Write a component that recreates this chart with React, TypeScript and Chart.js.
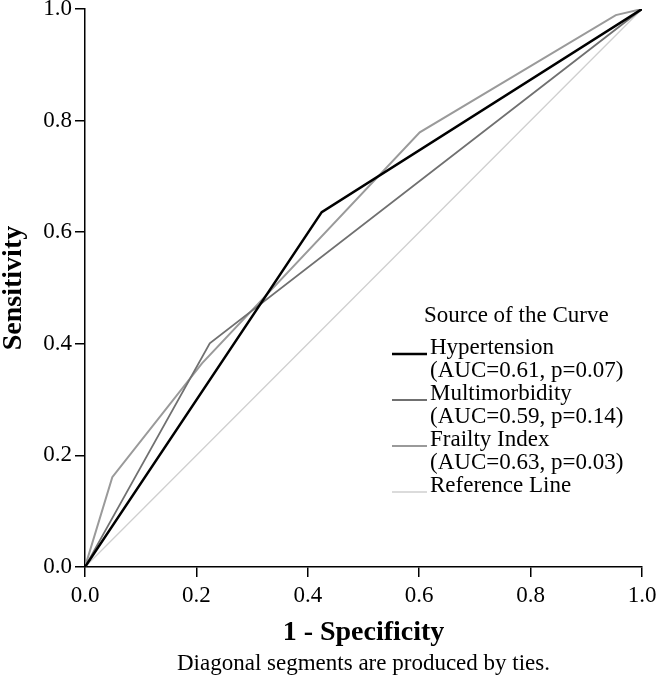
import React, { useEffect, useRef } from "react";
import { Chart, registerables } from "chart.js";

Chart.register(...registerables);

// ---- data ----
const seriesNames = ["Hypertension", "Multimorbidity", "Frailty Index", "Reference Line"];
const seriesStats = ["(AUC=0.61, p=0.07)", "(AUC=0.59, p=0.14)", "(AUC=0.63, p=0.03)", ""];

const hypX = [0, 0.425, 1];
const hypY = [0, 0.636, 1];
const multiX = [0, 0.224, 1];
const multiY = [0, 0.401, 1];
const frailX = [0, 0.049, 0.21, 0.601, 0.953, 1];
const frailY = [0, 0.161, 0.365, 0.779, 0.989, 1];
const refX = [0, 1];
const refY = [0, 1];

const tickValues = [0, 0.2, 0.4, 0.6, 0.8, 1.0];
const xTitle = "1 - Specificity";
const yTitle = "Sensitivity";
const legendTitle = "Source of the Curve";
const caption = "Diagonal segments are produced by ties.";

const FONT = "'Liberation Serif', 'Times New Roman', serif";

const toPoints = (xs: number[], ys: number[]) => xs.map((x, i) => ({ x, y: ys[i] }));

const legendPlugin = {
  id: "customLegend",
  afterDraw(chart: any) {
    const ctx = chart.ctx;
    ctx.save();
    ctx.fillStyle = "#000";
    ctx.font = `23px ${FONT}`;
    ctx.textBaseline = "alphabetic";
    ctx.textAlign = "left";
    ctx.fillText(legendTitle, 424, 322);
    const lineStep = 23;
    let base = 354;
    const dsets = chart.data.datasets;
    for (let i = 0; i < dsets.length; i++) {
      const ds = dsets[i];
      ctx.strokeStyle = ds.borderColor;
      ctx.lineWidth = ds.borderWidth;
      ctx.beginPath();
      ctx.moveTo(392, base);
      ctx.lineTo(427, base);
      ctx.stroke();
      ctx.fillText(seriesNames[i], 430, base);
      if (seriesStats[i]) {
        base += lineStep;
        ctx.fillText(seriesStats[i], 430, base);
      }
      base += lineStep;
    }
    // caption
    ctx.textAlign = "center";
    ctx.textBaseline = "middle";
    ctx.fillText(caption, (chart.chartArea.left + chart.chartArea.right) / 2, 664);
    ctx.restore();
  },
};

export default function App() {
  const ref = useRef<HTMLCanvasElement | null>(null);
  useEffect(() => {
    if (!ref.current) return;
    const chart = new Chart(ref.current, {
      type: "scatter",
      data: {
        datasets: [
          { label: seriesNames[0], data: toPoints(hypX, hypY), showLine: true, borderColor: "#000000", borderWidth: 2.5, pointRadius: 0, fill: false },
          { label: seriesNames[1], data: toPoints(multiX, multiY), showLine: true, borderColor: "#707070", borderWidth: 1.8, pointRadius: 0, fill: false },
          { label: seriesNames[2], data: toPoints(frailX, frailY), showLine: true, borderColor: "#9a9a9a", borderWidth: 2, pointRadius: 0, fill: false },
          { label: seriesNames[3], data: toPoints(refX, refY), showLine: true, borderColor: "#cfcfcf", borderWidth: 1.3, pointRadius: 0, fill: false },
        ],
      },
      options: {
        responsive: false,
        animation: false,
        layout: { padding: { left: 0, right: 18, top: 9, bottom: 0 } },
        plugins: { legend: { display: false }, tooltip: { enabled: false } },
        scales: {
          x: {
            type: "linear",
            min: 0,
            max: 1,
            afterBuildTicks: (s: any) => { s.ticks = tickValues.map((v) => ({ value: v })); },
            afterFit: (s: any) => { s.height = 118; s.paddingLeft = 0; s.paddingRight = 0; },
            ticks: { callback: (v: any) => Number(v).toFixed(1), color: "#000", font: { family: FONT, size: 23, lineHeight: 1.2 }, padding: 5, maxRotation: 0 },
            grid: { display: true, drawOnChartArea: false, drawTicks: true, tickLength: 10, color: "#000", lineWidth: 1.5 },
            border: { display: true, color: "#000", width: 1.5 },
            title: { display: true, text: xTitle, color: "#000", font: { family: FONT, size: 28, weight: "bold", lineHeight: 1 }, padding: { top: 0, bottom: 38 } },
          },
          y: {
            type: "linear",
            min: 0,
            max: 1,
            afterBuildTicks: (s: any) => { s.ticks = tickValues.map((v) => ({ value: v })); },
            afterFit: (s: any) => { s.width = 85; s.paddingTop = 0; s.paddingBottom = 0; },
            ticks: { callback: (v: any) => Number(v).toFixed(1), color: "#000", font: { family: FONT, size: 23, lineHeight: 1.2 }, padding: 3 },
            grid: { display: true, drawOnChartArea: false, drawTicks: true, tickLength: 10, color: "#000", lineWidth: 1.5 },
            border: { display: true, color: "#000", width: 1.5 },
            title: { display: true, text: yTitle, color: "#000", font: { family: FONT, size: 28, weight: "bold", lineHeight: 1 }, padding: { top: 0, bottom: 0 } },
          },
        },
      },
      plugins: [legendPlugin],
    });
    return () => chart.destroy();
  }, []);
  return (
    <div style={{ position: "absolute", left: 0, top: 0, width: 660, height: 685, background: "#fff" }}>
      <canvas ref={ref} width={660} height={685} style={{ width: 660, height: 685, display: "block" }} />
    </div>
  );
}
